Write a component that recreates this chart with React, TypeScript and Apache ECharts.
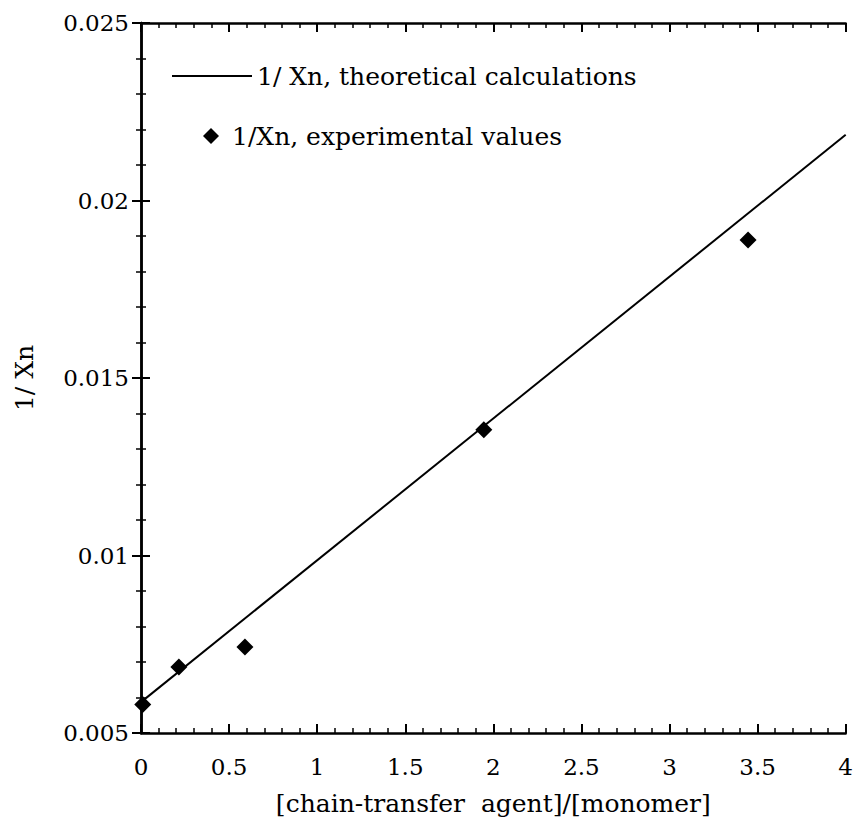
import React, { useEffect, useRef } from "react";
import * as echarts from "echarts";

const lineX = [0, 4];
const lineY = [0.00587, 0.02185];
const expX = [0.01, 0.215, 0.59, 1.946, 3.446];
const expY = [0.0058, 0.00686, 0.00742, 0.01354, 0.01889];
const legendLine = "1/ Xn, theoretical calculations";
const legendPoints = "1/Xn, experimental values";
const xTitle = "[chain-transfer  agent]/[monomer]";
const yTitle = "1/ Xn";

const FONT = "DejaVu Serif";
const FS = 23;
const FT = 25;

export default function App() {
  const ref = useRef<HTMLDivElement>(null);
  useEffect(() => {
    document.body.style.margin = "0";
    const chart = echarts.init(ref.current!, null, { renderer: "svg" });
    const axisLine = { show: true, lineStyle: { color: "#000", width: 2.5 } };
    const common = {
      axisLine,
      axisTick: { show: true, inside: true, length: 9, lineStyle: { color: "#000", width: 2 } },
      minorTick: { show: true, splitNumber: 5, length: 5, lineStyle: { color: "#000", width: 1.5 } },
      splitLine: { show: false },
      minorSplitLine: { show: false },
    };
    const tick = { color: "#000", fontFamily: FONT, fontSize: FS };
    const ttl = { color: "#000", fontFamily: FONT, fontSize: FT };
    chart.setOption({
      animation: false,
      backgroundColor: "#fff",
      grid: { left: 141, right: 7, top: 23, bottom: 95, containLabel: false },
      xAxis: [
        {
          type: "value", min: 0, max: 4, interval: 0.5, position: "bottom",
          ...common,
          axisLabel: { ...tick, margin: 22 },
          name: xTitle, nameLocation: "middle", nameGap: 58,
          nameTextStyle: { ...ttl },
        },
        {
          type: "value", min: 0, max: 4, interval: 0.5, position: "top",
          ...common, axisLabel: { show: false },
        },
      ],
      yAxis: [
        {
          type: "value", min: 0.005, max: 0.025, interval: 0.005, position: "left",
          ...common,
          axisLabel: { ...tick, margin: 12 },
          name: yTitle, nameLocation: "middle", nameGap: 104, nameRotate: 90,
          nameTextStyle: { ...ttl },
        },
        {
          type: "value", min: 0.005, max: 0.025, interval: 0.005, position: "right",
          ...common, axisLabel: { show: false },
        },
      ],
      series: [
        {
          type: "line",
          data: lineX.map((x, i) => [x, lineY[i]]),
          showSymbol: false,
          lineStyle: { color: "#000", width: 2 },
          z: 2,
        },
        {
          type: "scatter",
          data: expX.map((x, i) => [x, expY[i]]),
          symbol: "diamond",
          symbolSize: [17, 17],
          itemStyle: { color: "#000", opacity: 1 },
          z: 3,
        },
      ],
      graphic: [
        { type: "line", shape: { x1: 172, y1: 76, x2: 252, y2: 76 }, style: { stroke: "#000", lineWidth: 2 } },
        {
          type: "text", x: 257, y: 76,
          style: { text: legendLine, fill: "#000", font: `${FT}px "${FONT}"`, verticalAlign: "middle" },
        },
        {
          type: "polygon",
          shape: { points: [[211, 128], [219, 136], [211, 144], [203, 136]] },
          style: { fill: "#000" },
        },
        {
          type: "text", x: 232, y: 136,
          style: { text: legendPoints, fill: "#000", font: `${FT}px "${FONT}"`, verticalAlign: "middle" },
        },
      ],
    });
    return () => chart.dispose();
  }, []);
  return <div ref={ref} style={{ width: 856, height: 828 }} />;
}
